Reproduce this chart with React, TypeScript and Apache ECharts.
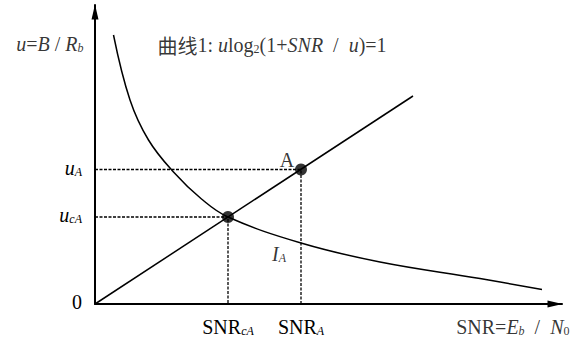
import React, { useEffect, useRef } from "react";
import * as echarts from "echarts";

// ---- data (arbitrary units) ----
const X_MAX = 9.34;
const Y_MAX = 5.98;
const curveX = [0.37, 0.7, 1.07, 1.57, 2.13, 2.66, 4.12, 5.7, 7.7, 8.94];
const curveY = [5.38, 4.08, 3.28, 2.64, 2.1, 1.74, 1.22, 0.84, 0.51, 0.29];
const lineX = [0, 6.36];
const lineY = [0, 4.16];
const pointX = [2.66, 4.12]; // cA, A
const pointY = [1.74, 2.69];
const xTickValues = [2.66, 4.12];
const xTickLabels = ["{n|SNR}{s|cA}", "{n|SNR}{s|A}"];
const yTickValues = [0, 1.74, 2.69];
const yTickLabels = ["{n|0}", "{i|u}{s|cA}", "{i|u}{s|A}"];
// annotation texts anchored at data positions
const annX = [3.84, 3.68];
const annY = [2.9, 1.02];
const annLabels = ["{n|A}", "{i|I}{s|A}"];
// text blocks: anchor x, anchor y, side, text
const textX = [-0.22, 1.24, 9.5];
const textY = [5.22, 5.2, -0.44];
const textSide = ["left", "right", "left"];
const textLabels = [
  "{i|u}{n|=}{i|B}{n| / }{i|R}{s|b}",
  "{c|曲线}{n|1: }{i|u}{n|log}{su|2}{n|(1+}{i|SNR}{n|  /  }{i|u}{n|)=1}",
  "{n|SNR=}{i|E}{s|b}{n|  /  }{i|N}{su|0}",
];

const SERIF = "Liberation Serif";
const CJK = "Noto Sans CJK SC";
const FS = 20;

const rich: any = {
  i: { fontStyle: "italic", fontFamily: SERIF, fontSize: FS, color: "#000", lineHeight: 22, verticalAlign: "bottom" },
  n: { fontFamily: SERIF, fontSize: FS, color: "#000", lineHeight: 22, verticalAlign: "bottom" },
  s: { fontStyle: "italic", fontFamily: SERIF, fontSize: 12, color: "#000", lineHeight: 12, verticalAlign: "bottom" },
  su: { fontFamily: SERIF, fontSize: 12, color: "#000", lineHeight: 12, verticalAlign: "bottom" },
  c: { fontFamily: CJK, fontSize: 20, color: "#000", lineHeight: 22, verticalAlign: "bottom" },
};

export default function App() {
  const ref = useRef<HTMLDivElement>(null);
  useEffect(() => {
    if (!ref.current) return;
    const chart = echarts.init(ref.current, null, { renderer: "svg" });
    const dashStyle = { color: "#000", width: 1.3, type: [3, 1.5] as any };
    const dashSeries = pointX.map((px, k) => ({
      type: "line",
      data: [
        [0, pointY[k]],
        [px, pointY[k]],
        [px, 0],
      ],
      symbol: "none",
      lineStyle: dashStyle,
      z: 1,
    }));
    const textSeries = textX.map((x, k) => ({
      type: "scatter",
      clip: false,
      data: [[x, textY[k]]],
      symbolSize: 1,
      itemStyle: { color: "rgba(0,0,0,0)" },
      silent: true,
      label: {
        show: true,
        position: textSide[k],
        distance: 0,
        formatter: () => textLabels[k],
        fontFamily: SERIF,
        fontSize: FS,
        color: "#000",
        textBorderWidth: 0,
        rich,
      },
      z: 4,
    }));
    chart.setOption({
      animation: false,
      backgroundColor: "#fff",
      textStyle: { fontFamily: SERIF },
      grid: { left: 95, right: 19, top: 5, bottom: 33 },
      xAxis: {
        type: "value",
        min: 0,
        max: X_MAX,
        axisLine: {
          show: true,
          symbol: ["none", "triangle"],
          symbolSize: [7, 15],
          symbolOffset: [0, -7],
          lineStyle: { color: "#000", width: 2 },
        },
        axisTick: { show: false },
        splitLine: { show: false },
        axisLabel: {
          customValues: xTickValues,
          margin: 11,
          formatter: (v: number) => {
            const k = xTickValues.indexOf(v);
            return k >= 0 ? xTickLabels[k] : "";
          },
          fontFamily: SERIF,
          fontSize: FS,
          color: "#000",
          rich,
        },
      },
      yAxis: {
        type: "value",
        min: 0,
        max: Y_MAX,
        axisLine: {
          show: true,
          symbol: ["none", "triangle"],
          symbolSize: [7, 15],
          symbolOffset: [0, -7],
          lineStyle: { color: "#000", width: 2 },
        },
        axisTick: { show: false },
        splitLine: { show: false },
        axisLabel: {
          customValues: yTickValues,
          margin: 13,
          formatter: (v: number) => {
            const k = yTickValues.indexOf(v);
            return k >= 0 ? yTickLabels[k] : "";
          },
          fontFamily: SERIF,
          fontSize: FS,
          color: "#000",
          padding: [0, 0, 6, 0],
          rich,
        },
      },
      series: [
        ...dashSeries,
        {
          type: "line",
          data: curveX.map((x, k) => [x, curveY[k]]),
          smooth: 0.4,
          symbol: "none",
          lineStyle: { color: "#000", width: 1.5 },
          z: 2,
        },
        {
          type: "line",
          data: lineX.map((x, k) => [x, lineY[k]]),
          symbol: "none",
          lineStyle: { color: "#000", width: 1.5 },
          z: 2,
        },
        {
          type: "scatter",
          data: pointX.map((x, k) => [x, pointY[k]]),
          symbolSize: 12,
          itemStyle: { color: "#000" },
          z: 3,
        },
        {
          type: "scatter",
          data: annX.map((x, k) => [x, annY[k]]),
          symbolSize: 1,
          itemStyle: { color: "rgba(0,0,0,0)" },
          label: {
            show: true,
            position: "inside",
            formatter: (p: any) => annLabels[p.dataIndex],
            fontFamily: SERIF,
            fontSize: FS,
            color: "#000",
            textBorderWidth: 0,
            rich,
          },
          z: 4,
        },
        ...textSeries,
      ],
    });
    return () => chart.dispose();
  }, []);
  return (
    <div
      ref={ref}
      style={{ position: "fixed", left: 0, top: 0, width: 581, height: 337, background: "#fff" }}
    />
  );
}
